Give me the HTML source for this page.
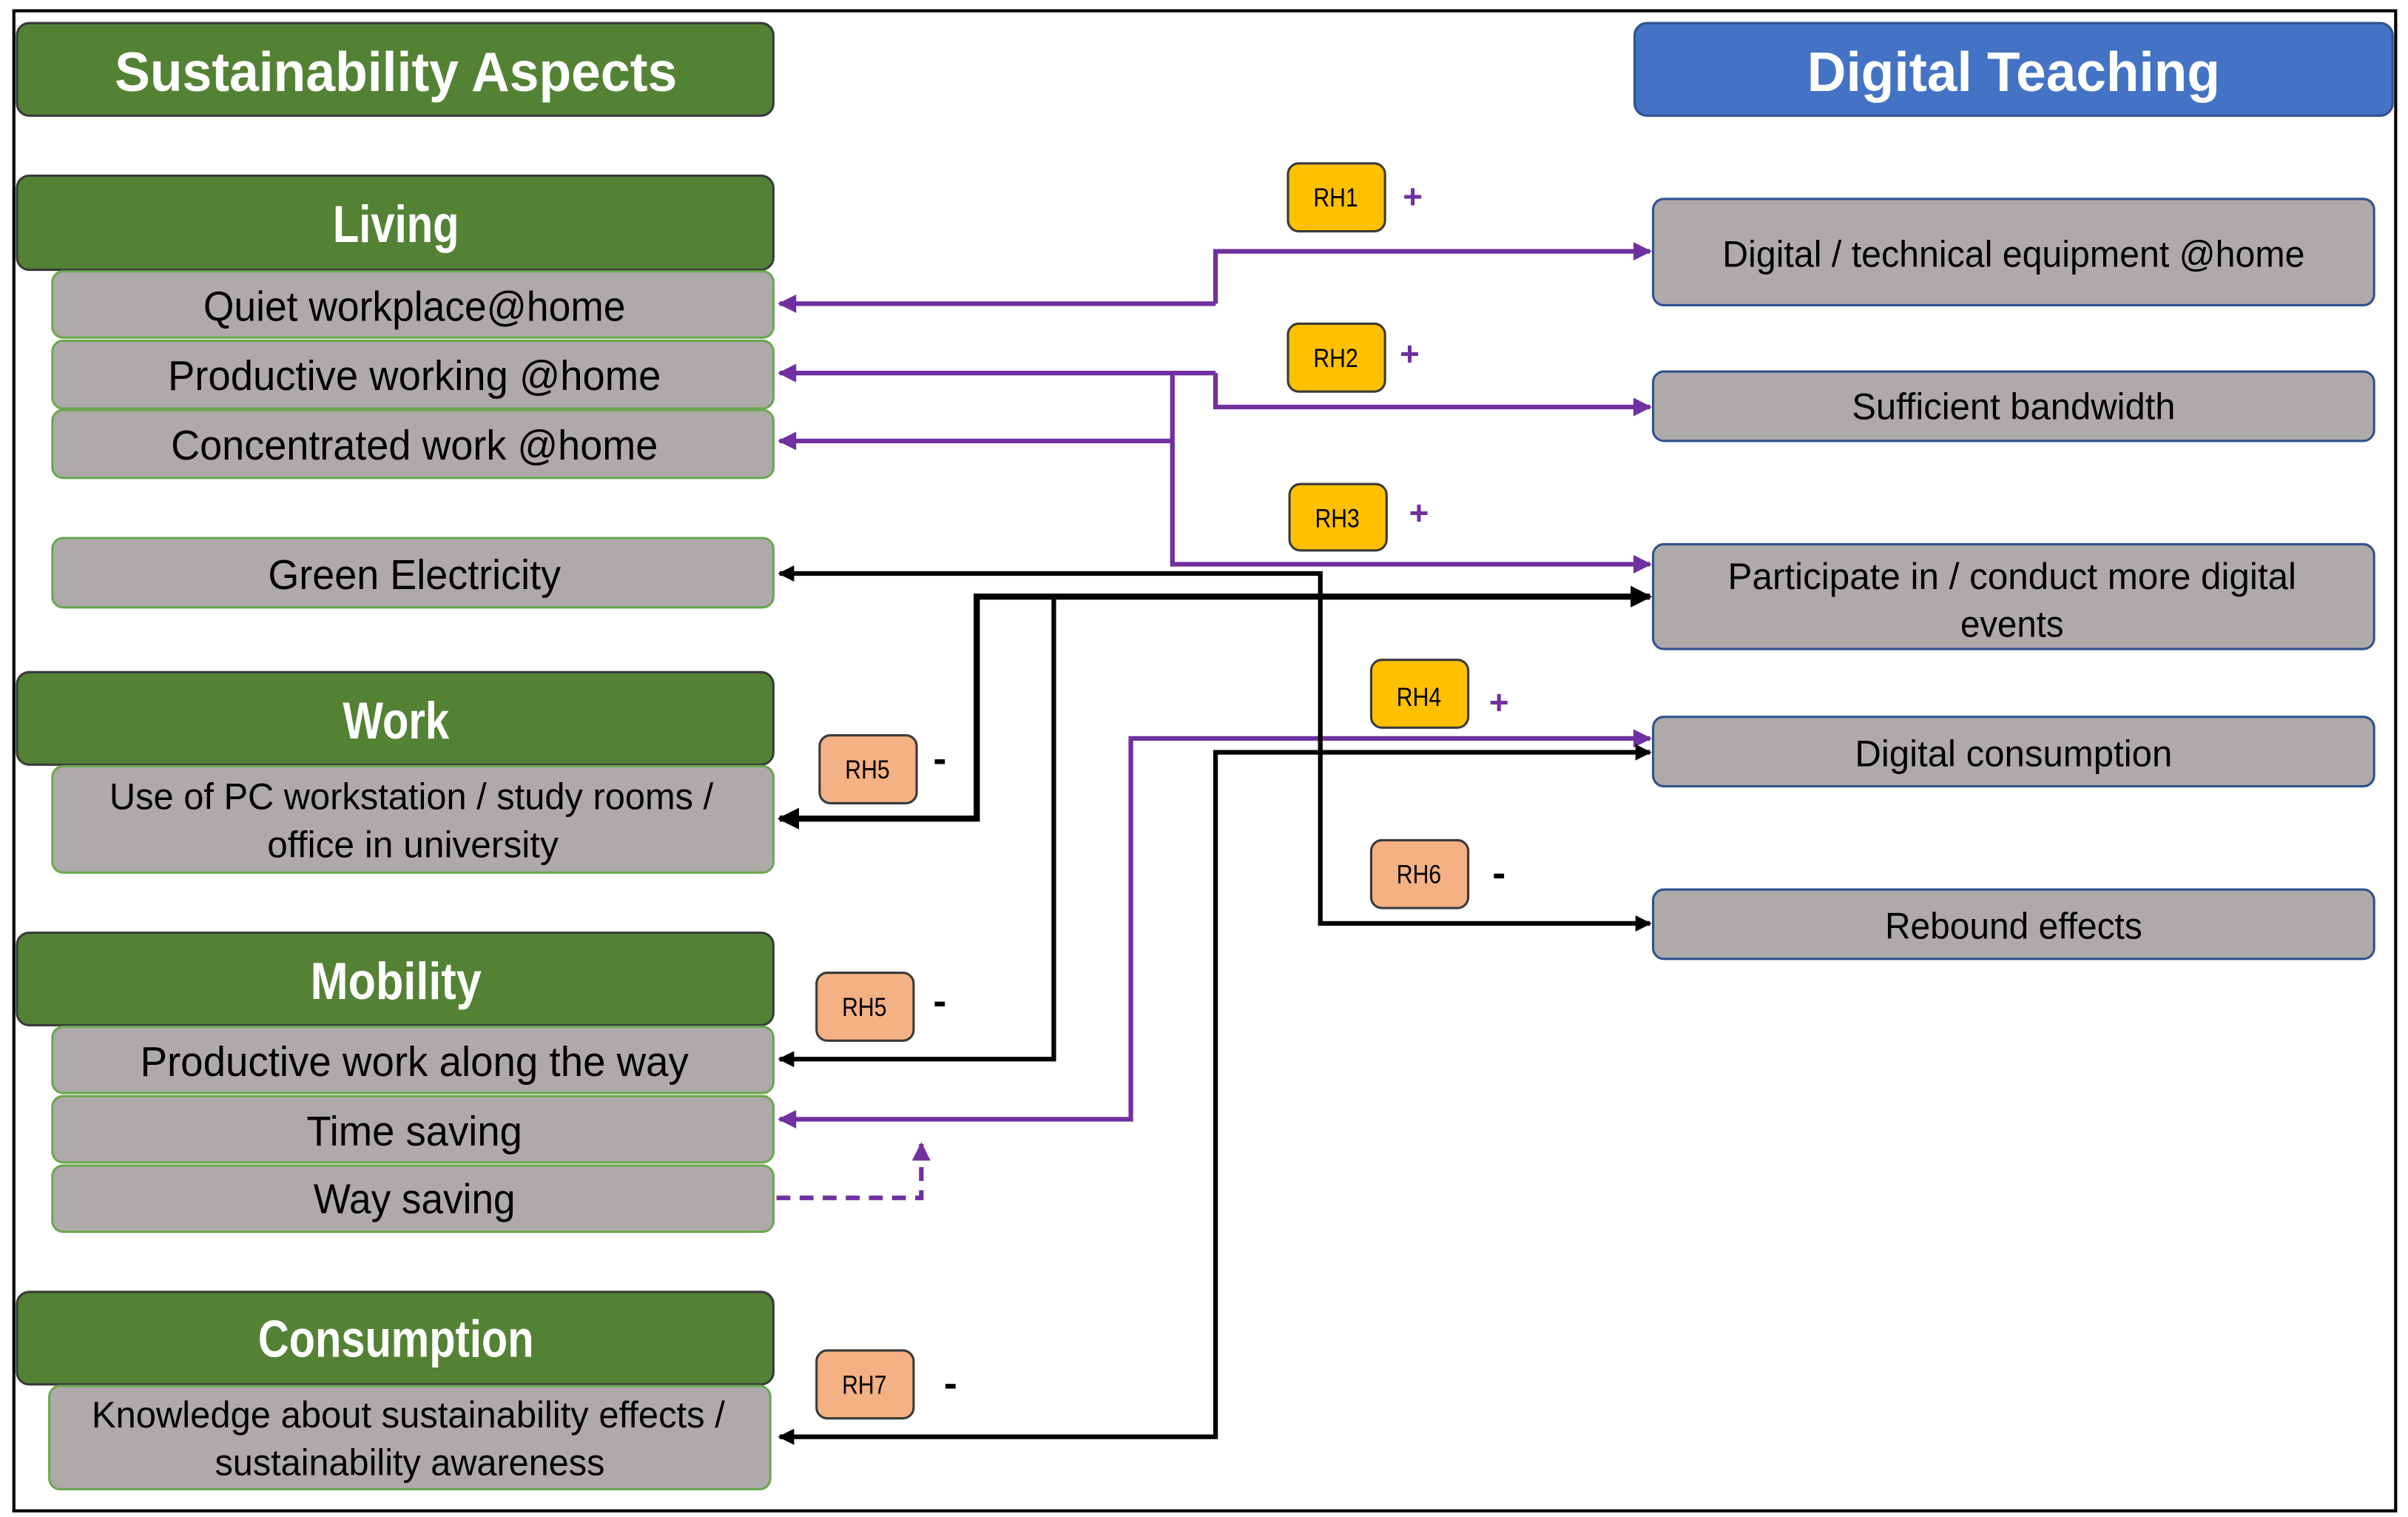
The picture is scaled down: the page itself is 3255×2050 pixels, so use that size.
<!DOCTYPE html>
<html><head><meta charset="utf-8"><style>
html,body{margin:0;padding:0;background:#fff;}
svg{display:block;}
text{font-family:"Liberation Sans",sans-serif;}
</style></head><body>
<svg width="3255" height="2050" viewBox="0 0 1563 984" preserveAspectRatio="none" xmlns="http://www.w3.org/2000/svg">
<defs>
<marker id="ap" viewBox="0 0 10 10" refX="9" refY="5" markerWidth="4" markerHeight="4" orient="auto-start-reverse"><path d="M0,0 L10,5 L0,10 z" fill="#7030A0"/></marker>
<marker id="ab" viewBox="0 0 10 10" refX="9" refY="5" markerWidth="3.5" markerHeight="3.5" orient="auto-start-reverse"><path d="M0,0 L10,5 L0,10 z" fill="#000"/></marker>
</defs>
<rect x="9" y="7" width="1546" height="973" fill="#fff" stroke="#000" stroke-width="2"/>

<g stroke="#3a3a3a" stroke-width="1.5">
<rect x="11" y="15" width="491" height="60" rx="8" fill="#548235"/>
<rect x="1061" y="15" width="492" height="60" rx="8" fill="#4472C4" stroke="#2f528f"/>
<rect x="11" y="114" width="491" height="61" rx="8" fill="#548235"/>
<rect x="11" y="436" width="491" height="60" rx="8" fill="#548235"/>
<rect x="11" y="605" width="491" height="60" rx="8" fill="#548235"/>
<rect x="11" y="838" width="491" height="60" rx="8" fill="#548235"/>
</g>
<g fill="#fff" font-weight="bold" text-anchor="middle" font-size="36" lengthAdjust="spacingAndGlyphs">
<text x="257" y="59" textLength="365" lengthAdjust="spacingAndGlyphs">Sustainability Aspects</text>
<text x="1307" y="59" textLength="268" lengthAdjust="spacingAndGlyphs">Digital Teaching</text>
<text x="257" y="157" font-size="34" textLength="82" lengthAdjust="spacingAndGlyphs">Living</text>
<text x="257" y="479" font-size="34" textLength="69" lengthAdjust="spacingAndGlyphs">Work</text>
<text x="257" y="648" font-size="34" textLength="111" lengthAdjust="spacingAndGlyphs">Mobility</text>
<text x="257" y="880" font-size="34" textLength="179" lengthAdjust="spacingAndGlyphs">Consumption</text>
</g>

<g fill="#AEAAAA" stroke="#6aa84f" stroke-width="1.5">
<rect x="34" y="176" width="468" height="43" rx="7"/>
<rect x="34" y="221" width="468" height="44" rx="7"/>
<rect x="34" y="266" width="468" height="44" rx="7"/>
<rect x="34" y="349" width="468" height="45" rx="7"/>
<rect x="34" y="497" width="468" height="69" rx="7"/>
<rect x="34" y="666" width="468" height="43" rx="7"/>
<rect x="34" y="711" width="468" height="43" rx="7"/>
<rect x="34" y="756" width="468" height="43" rx="7"/>
<rect x="32" y="899" width="468" height="67" rx="7"/>
</g>
<g fill="#AEAAAA" stroke="#2f528f" stroke-width="1.5">
<rect x="1073" y="129" width="468" height="69" rx="7"/>
<rect x="1073" y="241" width="468" height="45" rx="7"/>
<rect x="1073" y="353" width="468" height="68" rx="7"/>
<rect x="1073" y="465" width="468" height="45" rx="7"/>
<rect x="1073" y="577" width="468" height="45" rx="7"/>
</g>
<g fill="#000" text-anchor="middle" font-size="27">
<text x="269" y="208" textLength="274" lengthAdjust="spacingAndGlyphs">Quiet workplace@home</text>
<text x="269" y="253" textLength="320" lengthAdjust="spacingAndGlyphs">Productive working @home</text>
<text x="269" y="298" textLength="316" lengthAdjust="spacingAndGlyphs">Concentrated work @home</text>
<text x="269" y="382" textLength="190" lengthAdjust="spacingAndGlyphs">Green Electricity</text>
<text x="269" y="698" textLength="356" lengthAdjust="spacingAndGlyphs">Productive work along the way</text>
<text x="269" y="743" textLength="140" lengthAdjust="spacingAndGlyphs">Time saving</text>
<text x="269" y="787" textLength="131" lengthAdjust="spacingAndGlyphs">Way saving</text>
<g font-size="24">
<text x="267" y="525" textLength="392" lengthAdjust="spacingAndGlyphs">Use of PC workstation / study rooms /</text>
<text x="268" y="556" textLength="189" lengthAdjust="spacingAndGlyphs">office in university</text>
<text x="265" y="926" textLength="411" lengthAdjust="spacingAndGlyphs">Knowledge about sustainability effects /</text>
<text x="266" y="957" textLength="253" lengthAdjust="spacingAndGlyphs">sustainability awareness</text>
<text x="1307" y="173" textLength="378" lengthAdjust="spacingAndGlyphs">Digital / technical equipment @home</text>
<text x="1307" y="272" textLength="210" lengthAdjust="spacingAndGlyphs">Sufficient bandwidth</text>
<text x="1306" y="382" textLength="369" lengthAdjust="spacingAndGlyphs">Participate in / conduct more digital</text>
<text x="1306" y="413" textLength="67" lengthAdjust="spacingAndGlyphs">events</text>
<text x="1307" y="497" textLength="206" lengthAdjust="spacingAndGlyphs">Digital consumption</text>
<text x="1307" y="609" textLength="167" lengthAdjust="spacingAndGlyphs">Rebound effects</text>
</g>
</g>

<g stroke="#3a3a3a" stroke-width="1.5">
<rect x="836" y="106" width="63" height="44" rx="7" fill="#FFC000"/>
<rect x="836" y="210" width="63" height="44" rx="7" fill="#FFC000"/>
<rect x="837" y="314" width="63" height="43" rx="7" fill="#FFC000"/>
<rect x="890" y="428" width="63" height="44" rx="7" fill="#FFC000"/>
<rect x="532" y="477" width="63" height="44" rx="7" fill="#F4B183"/>
<rect x="530" y="631" width="63" height="44" rx="7" fill="#F4B183"/>
<rect x="890" y="545" width="63" height="44" rx="7" fill="#F4B183"/>
<rect x="530" y="876" width="63" height="44" rx="7" fill="#F4B183"/>
</g>
<g fill="#000" text-anchor="middle" font-size="17">
<text x="867" y="134" textLength="29" lengthAdjust="spacingAndGlyphs">RH1</text>
<text x="867" y="238" textLength="29" lengthAdjust="spacingAndGlyphs">RH2</text>
<text x="868" y="342" textLength="29" lengthAdjust="spacingAndGlyphs">RH3</text>
<text x="921" y="458" textLength="29" lengthAdjust="spacingAndGlyphs">RH4</text>
<text x="563" y="505" textLength="29" lengthAdjust="spacingAndGlyphs">RH5</text>
<text x="561" y="659" textLength="29" lengthAdjust="spacingAndGlyphs">RH5</text>
<text x="921" y="573" textLength="29" lengthAdjust="spacingAndGlyphs">RH6</text>
<text x="561" y="904" textLength="29" lengthAdjust="spacingAndGlyphs">RH7</text>
</g>
<g fill="#7030A0" font-weight="bold" font-size="22" text-anchor="middle">
<text x="917" y="135">+</text>
<text x="915" y="237">+</text>
<text x="921" y="340">+</text>
<text x="973" y="463">+</text>
</g>
<g fill="#000" font-weight="bold" font-size="26" text-anchor="middle">
<text x="610" y="501">-</text>
<text x="610" y="658">-</text>
<text x="973" y="575">-</text>
<text x="617" y="906">-</text>
</g>

<g fill="none" stroke="#7030A0" stroke-width="3">
<polyline points="789,197 789,163 1071,163" marker-end="url(#ap)"/>
<polyline points="789,242 789,264 1071,264" marker-end="url(#ap)"/>
<line x1="789" y1="197" x2="506" y2="197" marker-end="url(#ap)"/>
<line x1="789" y1="242" x2="506" y2="242" marker-end="url(#ap)"/>
<polyline points="761,242 761,366 1071,366" marker-end="url(#ap)"/>
<line x1="761" y1="286" x2="506" y2="286" marker-end="url(#ap)"/>
<polyline points="1071,479 734,479 734,726 506,726" marker-start="url(#ap)" marker-end="url(#ap)"/>
<polyline points="504,777 598,777 598,742" stroke-dasharray="9,6" marker-end="url(#ap)"/>
</g>
<g fill="none" stroke="#000" stroke-width="3">
<polyline points="1071,599 857,599 857,372 506,372" marker-start="url(#ab)" marker-end="url(#ab)"/>
<polyline points="506,531 634,531 634,387 1071,387" marker-start="url(#ab)" marker-end="url(#ab)" stroke-width="4"/>
<polyline points="506,687 684,687 684,387" marker-start="url(#ab)"/>
<polyline points="506,932 789,932 789,488 1071,488" marker-start="url(#ab)" marker-end="url(#ab)"/>
</g>
</svg>
</body></html>
